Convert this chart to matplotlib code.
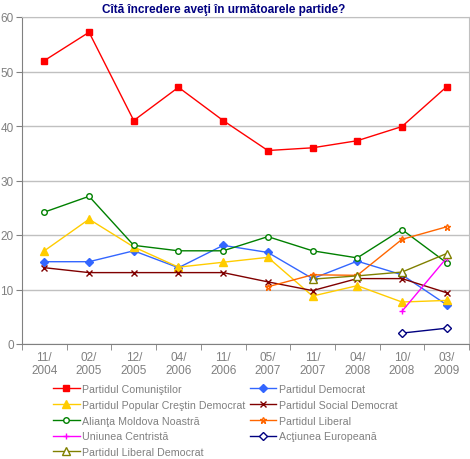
import numpy as np
import matplotlib.pyplot as plt

plt.rcParams['font.family'] = ['Liberation Sans', 'DejaVu Sans']

nan = np.nan

perioade = ["11/\n2004", "02/\n2005", "12/\n2005", "04/\n2006", "11/\n2006",
            "05/\n2007", "11/\n2007", "04/\n2008", "10/\n2008", "03/\n2009"]

pcrm = [52, 57.2, 41, 47.1, 41, 35.5, 36, 37.3, 39.9, 47.2]
pd = [15.1, 15.1, 17.1, 14, 18.1, 16.8, 12, 15.2, 12.7, 7.2]
ppcd = [17.1, 22.9, 17.8, 14.1, 15, 15.9, 8.8, 10.7, 7.7, 8]
psd = [14, 13.1, 13.1, 13.1, 13.1, 11.4, 9.8, 12, 12, 9.4]
amn = [24.2, 27.1, 18.1, 17.1, 17.1, 19.7, 17.1, 15.8, 21, 14.9]
pl = [nan, nan, nan, nan, nan, 10.5, 12.7, 12.6, 19.2, 21.5]
uc = [nan, nan, nan, nan, nan, nan, nan, nan, 6, 15.8]
ae = [nan, nan, nan, nan, nan, nan, nan, nan, 2, 2.9]
pldm = [nan, nan, nan, nan, nan, nan, 11.9, 12.5, 13.2, 16.6]

gri = "#808080"

fig = plt.figure(figsize=(4.7, 4.6), dpi=100)
ax = fig.add_axes([22 / 470, 1 - 345 / 460, 447 / 470, 327 / 460])

x = np.arange(len(perioade))

l_pcrm, = ax.plot(x, pcrm, color="#ff0000", lw=1, marker="s", ms=5, mec="#ff0000",
                  label="Partidul Comuniştilor")
l_pd, = ax.plot(x, pd, color="#3366ff", lw=1, marker="D", ms=4, mec="#3366ff",
                label="Partidul Democrat")
l_ppcd, = ax.plot(x, ppcd, color="#ffcc00", lw=1, marker="^", ms=6, mec="#ffcc00",
                  label="Partidul Popular Creştin Democrat")
l_psd, = ax.plot(x, psd, color="#800000", lw=1, marker="x", ms=4, mew=1,
                 label="Partidul Social Democrat")
l_amn, = ax.plot(x, amn, color="#008000", lw=1, marker="o", ms=4, mfc="white",
                 mew=1, label="Alianţa Moldova Noastră")
l_pl, = ax.plot(x, pl, color="#ff6600", lw=1, marker="*", ms=5, mfc="none",
                mew=1, label="Partidul Liberal")
l_uc, = ax.plot(x, uc, color="#ff00ff", lw=1, marker="+", ms=5, mew=1,
                label="Uniunea Centristă")
l_ae, = ax.plot(x, ae, color="#000080", lw=1, marker="D", ms=4, mfc="white",
                mew=1, label="Acţiunea Europeană")
l_pldm, = ax.plot(x, pldm, color="#808000", lw=1, marker="^", ms=6, mfc="white",
                  mew=1, label="Partidul Liberal Democrat")

ax.set_xlim(-0.5, len(perioade) - 0.5)
ax.set_ylim(0, 60)
ax.set_yticks([0, 10, 20, 30, 40, 50, 60])
ax.set_xticks(x)
ax.set_xticklabels(perioade)
ax.set_xticks(np.arange(-0.5, len(perioade)), minor=True)
ax.tick_params(axis="x", which="major", length=0, pad=5, labelsize=8.5, labelcolor=gri)
ax.tick_params(axis="x", which="minor", length=4, color=gri)
ax.tick_params(axis="y", length=4, color=gri, labelsize=8.5, labelcolor=gri, pad=2)
for lab in ax.get_xticklabels():
    lab.set_linespacing(1.15)

ax.grid(axis="y", color="#c0c0c0", lw=1)
ax.set_axisbelow(True)
for s in ["left", "bottom"]:
    ax.spines[s].set_color(gri)
for s in ["top", "right"]:
    ax.spines[s].set_color("#c0c0c0")

fig.text(0.475, 0.978, "Cîtă încredere aveţi în următoarele partide?", ha="center",
         va="center", fontsize=8.5, fontweight="bold", color="#000080")

handles = [l_pcrm, l_ppcd, l_amn, l_uc, l_pldm, l_pd, l_psd, l_pl, l_ae]
leg = fig.legend(handles=handles, loc="upper left", bbox_to_anchor=(53 / 470, 1 - 385 / 460),
                 ncol=2, frameon=False, fontsize=7.7, handlelength=2.5,
                 handletextpad=0.25, columnspacing=0.35, labelspacing=0.54,
                 borderaxespad=0, borderpad=0)
for t in leg.get_texts():
    t.set_color(gri)

fig.savefig("out.png", dpi=100)
